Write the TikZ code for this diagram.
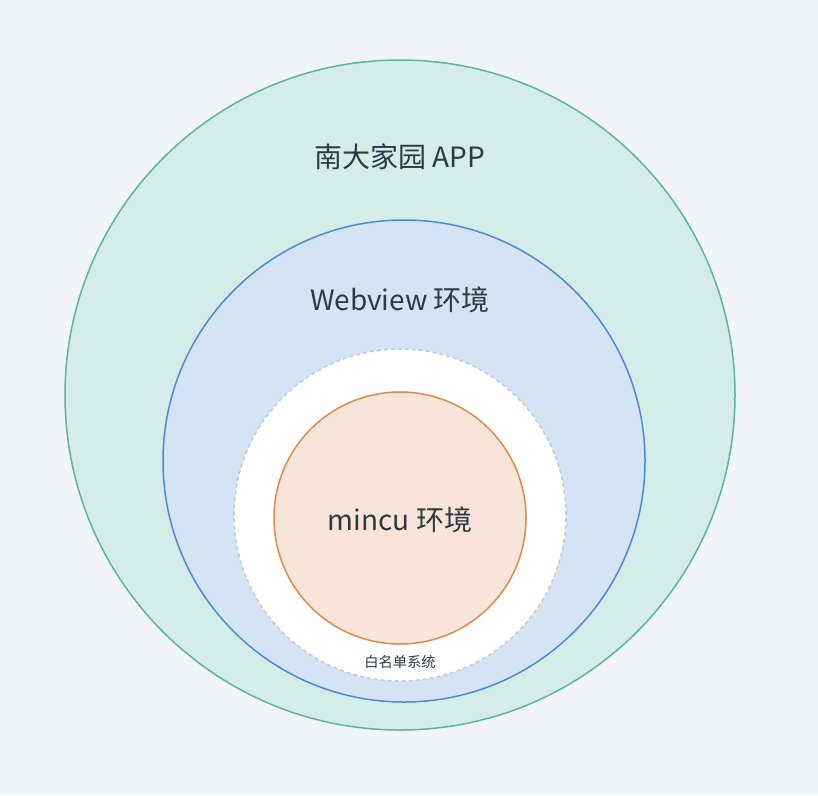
\documentclass[tikz,border=0pt]{standalone}
\usepackage{fontspec}
\setmainfont{Noto Sans CJK SC}
\definecolor{bgcol}{HTML}{F2F5F8}
\definecolor{appfill}{HTML}{D5EDE9}
\definecolor{appline}{HTML}{5BB5A2}
\definecolor{webfill}{HTML}{D5E4F4}
\definecolor{webline}{HTML}{4A8BD8}
\definecolor{wlline}{HTML}{C3CAD3}
\definecolor{minfill}{HTML}{F8E4D9}
\definecolor{minline}{HTML}{E08A4F}
\definecolor{txtcol}{HTML}{2D3A45}
\tikzset{
  ring/.style={circle,inner sep=0pt,line width=1.5pt},
  biglabel/.style={text=txtcol,font=\fontsize{28}{33}\selectfont},
  smalllabel/.style={text=txtcol,font=\fontsize{14.3}{17}\selectfont}
}
\begin{document}
\begin{tikzpicture}[x=1pt,y=-1pt]
          \fill[bgcol] (0,0) rectangle (818,795);
          \useasboundingbox (0,0) rectangle (818,795);

          \node[ring,draw=appline,fill=appfill,minimum size=670pt] (app) at (400,395) {};
          \node[ring,draw=webline,fill=webfill,minimum size=482pt] (web) at (404,461) {};
          \node[ring,draw=wlline,fill=white,dash pattern=on 4pt off 3pt,minimum size=332pt] (wl) at (400,515) {};
          \node[ring,draw=minline,fill=minfill,minimum size=252pt] (mincu) at (400,518) {};

          \node[biglabel] (applabel) at (400,157) {南大家园 APP};
          \node[biglabel] (weblabel) at (400,300) {Webview 环境};
          \node[biglabel] (minculabel) at (400,520) {mincu 环境};
          \node[smalllabel] (wllabel) at (400,662) {白名单系统};
        \end{tikzpicture}
\end{document}
